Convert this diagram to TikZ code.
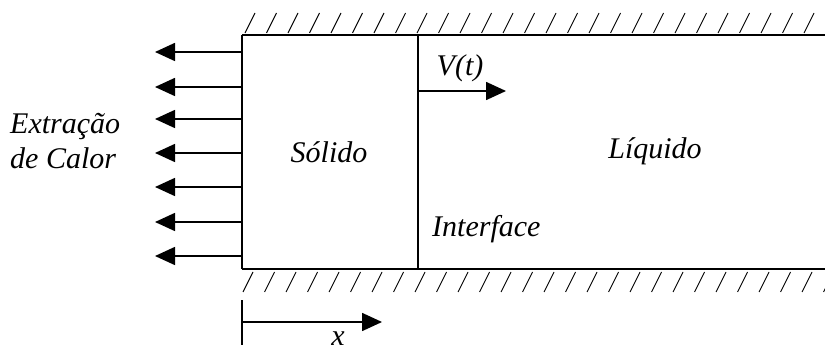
\documentclass[tikz,border=0pt]{standalone}
\usepackage{fontspec}
\setmainfont{Liberation Serif}
\usetikzlibrary{arrows.meta}
\begin{document}
\begin{tikzpicture}[x=1pt,y=-1pt,
  wall/.style={line width=1.6pt},
  hatch/.style={line width=0.9pt},
  heat/.style={line width=1.6pt,-{Triangle[length=20pt,width=18pt]}},
  lbl/.style={font=\fontsize{30}{34}\selectfont\itshape,inner sep=0pt}]
\useasboundingbox (0,0) rectangle (825,350);
% corners
\coordinate (tl) at (242,35);
\coordinate (bl) at (242,269);
\coordinate (tr) at (826,35);
\coordinate (br) at (826,269);
\coordinate (it) at (418,35);
\coordinate (ib) at (418,269);
% walls
\draw[wall] (tl) -- (tr);
\draw[wall] (bl) -- (br);
\draw[wall] (tl) -- (bl);
\draw[wall] (it) -- (ib);
% hatches
\foreach \i in {0,...,27} {
  \draw[hatch] (245+21.5*\i,33) -- ++(10,-20);
  \draw[hatch] (243+21.5*\i,292) -- ++(10,-20);
}
% heat extraction arrows
\foreach \y [count=\k] in {52,87,119,153,187,222,256} {
  \coordinate (hs\k) at (242,\y);
  \coordinate (he\k) at (155,\y);
  \draw[heat] (hs\k) -- (he\k);
}
% velocity arrow
\coordinate (vs) at (418,91);
\coordinate (ve) at (506,91);
\draw[heat] (vs) -- (ve);
% x axis
\coordinate (xa) at (242,300);
\coordinate (xb) at (242,345);
\coordinate (xs) at (242,322);
\coordinate (xe) at (382,322);
\draw[wall] (xa) -- (xb);
\draw[heat] (xs) -- (xe);
% labels
\node[lbl] (solido) at (329,152) {Sólido};
\node[lbl] (liquido) at (655,151) {Líquido};
\node[lbl] (vt) at (460,68) {V(t)};
\node[lbl,anchor=base west] (interface) at (432,236) {Interface};
\node[lbl,anchor=base west] (extr) at (10,134) {Extração};
\node[lbl,anchor=base west] (calor) at (10,169) {de Calor};
\node[lbl,anchor=base] (xl) at (338,345) {x};
\end{tikzpicture}
\end{document}
